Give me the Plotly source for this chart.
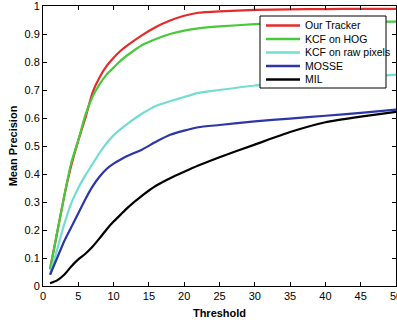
import plotly.graph_objects as go

thresholds = [1, 2, 3, 4, 5, 6, 7, 8, 9, 10, 11, 12, 14, 16, 18, 20, 22, 25, 30, 35, 40, 45, 50]
our_tracker = [0.06, 0.19, 0.32, 0.43, 0.52, 0.60, 0.69, 0.745, 0.785, 0.815, 0.84, 0.86, 0.895, 0.925, 0.948, 0.965, 0.976, 0.981, 0.986, 0.988, 0.989, 0.99, 0.99]
kcf_hog = [0.06, 0.19, 0.32, 0.44, 0.52, 0.61, 0.675, 0.72, 0.755, 0.78, 0.805, 0.825, 0.86, 0.882, 0.9, 0.912, 0.92, 0.927, 0.935, 0.94, 0.942, 0.943, 0.944]
kcf_raw = [0.04, 0.13, 0.22, 0.295, 0.35, 0.395, 0.435, 0.475, 0.51, 0.538, 0.56, 0.58, 0.615, 0.643, 0.66, 0.675, 0.69, 0.70, 0.716, 0.725, 0.735, 0.745, 0.755]
mosse = [0.04, 0.10, 0.16, 0.21, 0.26, 0.31, 0.355, 0.39, 0.418, 0.437, 0.452, 0.465, 0.487, 0.515, 0.54, 0.555, 0.567, 0.575, 0.588, 0.598, 0.608, 0.618, 0.63]
mil = [0.01, 0.02, 0.04, 0.07, 0.095, 0.115, 0.14, 0.17, 0.202, 0.23, 0.255, 0.28, 0.322, 0.358, 0.385, 0.408, 0.43, 0.46, 0.505, 0.55, 0.585, 0.605, 0.622]

names = ["Our Tracker", "KCF on HOG", "KCF on raw pixels", "MOSSE", "MIL"]
values = [our_tracker, kcf_hog, kcf_raw, mosse, mil]
colors = ["#e42a2a", "#48c93c", "#74dcd2", "#2c36a6", "#000000"]

FONT = "Liberation Sans, Arial"

fig = go.Figure()
for name, vals, color in zip(names, values, colors):
    fig.add_trace(go.Scatter(x=thresholds, y=vals, name=name, mode="lines",
                             line=dict(color=color, width=2.2, shape="spline", smoothing=0.5),
                             showlegend=False))

# Legend drawn manually (MATLAB-like compact legend box)
L, W, T, H = 43, 353, 6, 280
def px_x(p):
    return (p - L) / W
def px_y(p):
    return (T + H - p) / H

shapes = [dict(type="rect", xref="paper", yref="paper",
               x0=px_x(260), x1=px_x(386), y0=px_y(88), y1=px_y(16),
               fillcolor="white", line=dict(color="black", width=1), layer="above")]
annotations = []
for i, (name, color) in enumerate(zip(names, colors)):
    yy = px_y(25.5 + 13.5 * i)
    shapes.append(dict(type="line", xref="paper", yref="paper",
                       x0=px_x(266), x1=px_x(300), y0=yy, y1=yy,
                       line=dict(color=color, width=2.5), layer="above"))
    annotations.append(dict(xref="paper", yref="paper", x=px_x(303), y=yy,
                            text=name, showarrow=False, xanchor="left", yanchor="middle",
                            font=dict(family=FONT, size=10.5, color="black")))

axis_common = dict(showline=True, linecolor="black", linewidth=1, mirror="ticks",
                   ticks="inside", ticklen=4, tickcolor="black", showgrid=False,
                   zeroline=False, automargin=False, ticklabeloverflow="allow",
                   tickfont=dict(family=FONT, size=11, color="black"))

fig.update_layout(
    width=397, height=324,
    margin=dict(l=L, r=397 - L - W, t=T, b=324 - T - H),
    paper_bgcolor="white", plot_bgcolor="white",
    font=dict(family=FONT, size=11, color="black"),
    xaxis=dict(range=[0, 50], dtick=5, tick0=0,
               title=dict(text="<b>Threshold</b>", standoff=8, font=dict(size=11)), **axis_common),
    yaxis=dict(range=[0, 1], dtick=0.1, tick0=0,
               title=dict(text="<b>Mean Precision</b>", standoff=4, font=dict(size=11)), **axis_common),
    shapes=shapes,
    annotations=annotations,
    showlegend=False,
)

fig.write_html("out.html", config={"displayModeBar": False})

# remove default page margin so the figure sits at the window origin
with open("out.html", "r", encoding="utf-8") as f:
    html = f.read()
html = html.replace("<head>", "<head><style>html,body{margin:0;padding:0;overflow:hidden;}</style>", 1)
with open("out.html", "w", encoding="utf-8") as f:
    f.write(html)
